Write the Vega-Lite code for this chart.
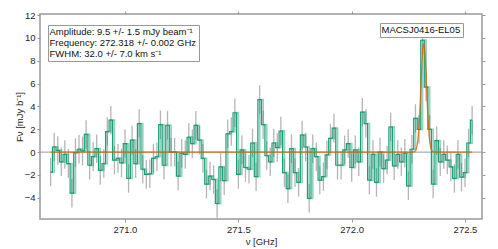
{
  "$schema": "https://vega.github.io/schema/vega-lite/v6.json",
  "width": 442,
  "height": 205,
  "autosize": {"type": "none"},
  "padding": {"left": 40, "top": 14, "right": 16, "bottom": 30},
  "background": "white",
  "datasets": {
    "spectrum": [
      {"freq": 270.6720, "flux": -1.75, "err": 1.25},
      {"freq": 270.6876, "flux": 0.45, "err": 1.25},
      {"freq": 270.7033, "flux": 0.15, "err": 1.25},
      {"freq": 270.7189, "flux": -0.85, "err": 1.25},
      {"freq": 270.7345, "flux": -0.2, "err": 1.25},
      {"freq": 270.7501, "flux": -1.0, "err": 1.25},
      {"freq": 270.7658, "flux": -3.6, "err": 1.25},
      {"freq": 270.7814, "flux": -0.05, "err": 1.25},
      {"freq": 270.7970, "flux": 0.25, "err": 1.25},
      {"freq": 270.8126, "flux": 0.1, "err": 1.25},
      {"freq": 270.8283, "flux": 1.55, "err": 1.25},
      {"freq": 270.8439, "flux": -1.15, "err": 1.25},
      {"freq": 270.8595, "flux": -0.4, "err": 1.25},
      {"freq": 270.8751, "flux": 0.3, "err": 1.25},
      {"freq": 270.8908, "flux": -1.6, "err": 1.25},
      {"freq": 270.9064, "flux": -1.0, "err": 1.25},
      {"freq": 270.9220, "flux": 1.8, "err": 1.25},
      {"freq": 270.9376, "flux": 2.8, "err": 1.25},
      {"freq": 270.9533, "flux": -0.7, "err": 1.25},
      {"freq": 270.9689, "flux": -0.55, "err": 1.25},
      {"freq": 270.9845, "flux": -0.95, "err": 1.25},
      {"freq": 271.0001, "flux": 0.75, "err": 1.25},
      {"freq": 271.0158, "flux": -2.3, "err": 1.25},
      {"freq": 271.0314, "flux": 1.05, "err": 1.25},
      {"freq": 271.0470, "flux": -1.0, "err": 1.25},
      {"freq": 271.0626, "flux": 2.5, "err": 1.25},
      {"freq": 271.0783, "flux": -1.5, "err": 1.25},
      {"freq": 271.0939, "flux": -1.95, "err": 1.25},
      {"freq": 271.1095, "flux": -1.9, "err": 1.25},
      {"freq": 271.1251, "flux": -0.55, "err": 1.25},
      {"freq": 271.1408, "flux": -0.4, "err": 1.25},
      {"freq": 271.1564, "flux": 2.4, "err": 1.25},
      {"freq": 271.1720, "flux": -1.15, "err": 1.25},
      {"freq": 271.1876, "flux": 2.35, "err": 1.25},
      {"freq": 271.2033, "flux": 0.0, "err": 1.25},
      {"freq": 271.2189, "flux": 0.0, "err": 1.25},
      {"freq": 271.2345, "flux": -2.1, "err": 1.25},
      {"freq": 271.2501, "flux": -0.1, "err": 1.25},
      {"freq": 271.2658, "flux": -0.2, "err": 1.25},
      {"freq": 271.2814, "flux": 1.3, "err": 1.25},
      {"freq": 271.2970, "flux": 0.75, "err": 1.25},
      {"freq": 271.3126, "flux": 2.35, "err": 1.25},
      {"freq": 271.3283, "flux": 1.05, "err": 1.25},
      {"freq": 271.3439, "flux": -0.55, "err": 1.25},
      {"freq": 271.3595, "flux": -2.8, "err": 1.25},
      {"freq": 271.3751, "flux": -2.1, "err": 1.25},
      {"freq": 271.3908, "flux": -2.4, "err": 1.25},
      {"freq": 271.4064, "flux": -4.5, "err": 1.25},
      {"freq": 271.4220, "flux": -1.3, "err": 1.25},
      {"freq": 271.4376, "flux": -2.5, "err": 1.25},
      {"freq": 271.4533, "flux": 1.6, "err": 1.25},
      {"freq": 271.4689, "flux": 1.8, "err": 1.25},
      {"freq": 271.4845, "flux": 3.45, "err": 1.25},
      {"freq": 271.5001, "flux": -1.95, "err": 1.25},
      {"freq": 271.5158, "flux": 0.2, "err": 1.25},
      {"freq": 271.5314, "flux": -1.35, "err": 1.25},
      {"freq": 271.5470, "flux": -1.5, "err": 1.25},
      {"freq": 271.5626, "flux": 0.8, "err": 1.25},
      {"freq": 271.5783, "flux": -2.15, "err": 1.25},
      {"freq": 271.5939, "flux": 4.6, "err": 1.25},
      {"freq": 271.6095, "flux": 2.4, "err": 1.25},
      {"freq": 271.6251, "flux": -0.3, "err": 1.25},
      {"freq": 271.6408, "flux": -0.85, "err": 1.25},
      {"freq": 271.6564, "flux": 0.8, "err": 1.25},
      {"freq": 271.6720, "flux": 0.4, "err": 1.25},
      {"freq": 271.6876, "flux": 1.85, "err": 1.25},
      {"freq": 271.7033, "flux": -1.8, "err": 1.25},
      {"freq": 271.7189, "flux": -3.2, "err": 1.25},
      {"freq": 271.7345, "flux": 0.3, "err": 1.25},
      {"freq": 271.7501, "flux": -1.8, "err": 1.25},
      {"freq": 271.7658, "flux": -2.65, "err": 1.25},
      {"freq": 271.7814, "flux": 1.5, "err": 1.25},
      {"freq": 271.7970, "flux": 0.45, "err": 1.25},
      {"freq": 271.8126, "flux": -4.05, "err": 1.25},
      {"freq": 271.8283, "flux": 0.3, "err": 1.25},
      {"freq": 271.8439, "flux": -0.4, "err": 1.25},
      {"freq": 271.8595, "flux": -2.45, "err": 1.25},
      {"freq": 271.8751, "flux": -2.15, "err": 1.25},
      {"freq": 271.8908, "flux": -0.25, "err": 1.25},
      {"freq": 271.9064, "flux": 1.2, "err": 1.25},
      {"freq": 271.9220, "flux": 2.1, "err": 1.25},
      {"freq": 271.9376, "flux": -1.15, "err": 1.25},
      {"freq": 271.9533, "flux": -1.15, "err": 1.25},
      {"freq": 271.9689, "flux": 0.2, "err": 1.25},
      {"freq": 271.9845, "flux": 0.75, "err": 1.25},
      {"freq": 272.0001, "flux": -1.35, "err": 1.25},
      {"freq": 272.0158, "flux": 0.2, "err": 1.25},
      {"freq": 272.0314, "flux": -0.85, "err": 1.25},
      {"freq": 272.0470, "flux": 3.5, "err": 1.25},
      {"freq": 272.0626, "flux": 2.5, "err": 1.25},
      {"freq": 272.0783, "flux": -2.45, "err": 1.25},
      {"freq": 272.0939, "flux": -0.2, "err": 1.25},
      {"freq": 272.1095, "flux": -2.65, "err": 1.25},
      {"freq": 272.1251, "flux": 0.0, "err": 1.25},
      {"freq": 272.1408, "flux": -1.45, "err": 1.25},
      {"freq": 272.1564, "flux": -0.7, "err": 1.25},
      {"freq": 272.1720, "flux": 2.2, "err": 1.25},
      {"freq": 272.1876, "flux": -1.2, "err": 1.25},
      {"freq": 272.2033, "flux": -0.2, "err": 1.25},
      {"freq": 272.2189, "flux": -0.85, "err": 1.25},
      {"freq": 272.2345, "flux": -0.1, "err": 1.25},
      {"freq": 272.2501, "flux": -2.95, "err": 1.25},
      {"freq": 272.2658, "flux": 0.25, "err": 1.25},
      {"freq": 272.2814, "flux": 2.95, "err": 1.25},
      {"freq": 272.2970, "flux": 2.0, "err": 1.25},
      {"freq": 272.3126, "flux": 9.8, "err": 1.25},
      {"freq": 272.3283, "flux": 5.7, "err": 1.25},
      {"freq": 272.3439, "flux": 2.0, "err": 1.25},
      {"freq": 272.3595, "flux": -2.8, "err": 1.25},
      {"freq": 272.3751, "flux": 1.0, "err": 1.25},
      {"freq": 272.3908, "flux": -0.85, "err": 1.25},
      {"freq": 272.4064, "flux": -0.2, "err": 1.25},
      {"freq": 272.4220, "flux": -0.7, "err": 1.25},
      {"freq": 272.4376, "flux": -1.3, "err": 1.25},
      {"freq": 272.4533, "flux": -2.3, "err": 1.25},
      {"freq": 272.4689, "flux": -0.2, "err": 1.25},
      {"freq": 272.4845, "flux": -2.2, "err": 1.25},
      {"freq": 272.5001, "flux": -1.8, "err": 1.25},
      {"freq": 272.5158, "flux": 0.8, "err": 1.25},
      {"freq": 272.5314, "flux": 2.8, "err": 1.25}
    ],
    "model": [
      {"freq": 270.672, "model": 0},
      {"freq": 272.268, "model": 0.003},
      {"freq": 272.273, "model": 0.012},
      {"freq": 272.278, "model": 0.05},
      {"freq": 272.283, "model": 0.171},
      {"freq": 272.288, "model": 0.496},
      {"freq": 272.293, "model": 1.222},
      {"freq": 272.298, "model": 2.557},
      {"freq": 272.303, "model": 4.54},
      {"freq": 272.308, "model": 6.842},
      {"freq": 272.313, "model": 8.752},
      {"freq": 272.318, "model": 9.5},
      {"freq": 272.323, "model": 8.752},
      {"freq": 272.328, "model": 6.842},
      {"freq": 272.333, "model": 4.54},
      {"freq": 272.338, "model": 2.557},
      {"freq": 272.343, "model": 1.222},
      {"freq": 272.348, "model": 0.496},
      {"freq": 272.353, "model": 0.171},
      {"freq": 272.358, "model": 0.05},
      {"freq": 272.363, "model": 0.012},
      {"freq": 272.368, "model": 0.003},
      {"freq": 272.5314, "model": 0}
    ],
    "fitinfo": [
      {"line": "Amplitude: 9.5 +/- 1.5 mJy beam⁻¹"},
      {"line": "Frequency: 272.318 +/- 0.002 GHz"},
      {"line": "FWHM: 32.0 +/- 7.0 km s⁻¹"}
    ],
    "source": [
      {"name": "MACSJ0416-EL05"}
    ]
  },
  "layer": [
    {
      "data": {"name": "spectrum"},
      "mark": {"type": "errorbar", "rule": {"color": "#b5b5b5", "strokeWidth": 1.3}},
      "encoding": {
        "x": {"field": "freq", "type": "quantitative", "axis": null, "scale": {"domain": [270.625, 272.575], "nice": false, "zero": false}},
        "y": {"field": "flux", "type": "quantitative", "axis": null, "scale": {"domain": [-5.86, 12.1], "nice": false, "zero": false}},
        "yError": {"field": "err"}
      }
    },
    {
      "mark": {"type": "rule", "color": "#999999", "strokeWidth": 1},
      "encoding": {"y": {"datum": 0, "type": "quantitative", "axis": null}}
    },
    {
      "data": {"name": "spectrum"},
      "mark": {"type": "line", "interpolate": "step-after", "color": "#1b9e77", "strokeWidth": 1.8, "opacity": 0.45},
      "encoding": {
        "x": {"field": "freq", "type": "quantitative", "axis": null},
        "y": {"field": "flux", "type": "quantitative", "axis": null}
      }
    },
    {
      "data": {"name": "spectrum"},
      "mark": {"type": "line", "interpolate": "step", "color": "#1b9e77", "strokeWidth": 1.2},
      "encoding": {
        "x": {"field": "freq", "type": "quantitative",
              "scale": {"domain": [270.625, 272.575], "nice": false, "zero": false},
              "axis": {"orient": "bottom", "values": [271.0, 271.5, 272.0, 272.5], "format": ".1f", "title": "ν [GHz]", "labelPadding": 2, "titlePadding": 3}},
        "y": {"field": "flux", "type": "quantitative",
              "scale": {"domain": [-5.86, 12.1], "nice": false, "zero": false},
              "axis": {"orient": "left", "tickCount": 9, "title": "Fν [mJy b⁻¹]", "labelPadding": 2, "titlePadding": 0,
                       "labelFlush": false, "labelOverlap": false, "labelBound": false}}
      }
    },
    {
      "data": {"name": "model"},
      "mark": {"type": "line", "interpolate": "monotone", "color": "#d95f02", "strokeWidth": 1.3, "opacity": 0.8},
      "encoding": {
        "x": {"field": "freq", "type": "quantitative",
              "axis": {"orient": "top", "values": [271.0, 271.5, 272.0, 272.5], "labels": false, "title": null}},
        "y": {"field": "model", "type": "quantitative",
              "axis": {"orient": "right", "tickCount": 9, "labels": false, "title": null}}
      }
    },
    {
      "data": {"name": "fitinfo"},
      "mark": {"type": "point", "opacity": 0},
      "encoding": {
        "shape": {"field": "line", "type": "nominal", "sort": null,
                  "legend": {"title": null, "orient": "none", "legendX": 8, "legendY": 11, "padding": 2, "rowPadding": 0,
                             "fillColor": "white", "strokeColor": "#999999", "labelFontSize": 9.5, "labelColor": "#111111",
                             "labelLimit": 400, "symbolSize": 0, "symbolStrokeWidth": 0, "symbolOpacity": 0, "labelOffset": -10}}
      }
    },
    {
      "data": {"name": "source"},
      "mark": {"type": "point", "opacity": 0},
      "encoding": {
        "color": {"field": "name", "type": "nominal", "scale": {"range": ["black"]},
                  "legend": {"title": null, "orient": "none", "legendX": 340, "legendY": 9, "padding": 2,
                             "fillColor": "white", "strokeColor": "#999999", "labelFontSize": 9.5, "labelColor": "#111111",
                             "labelLimit": 400, "symbolSize": 0, "symbolStrokeWidth": 0, "symbolOpacity": 0, "labelOffset": -10}}
      }
    }
  ],
  "resolve": {"axis": {"x": "independent", "y": "independent"}},
  "config": {
    "font": "Liberation Sans",
    "view": {"stroke": "#999999", "strokeWidth": 1.5},
    "axis": {
      "domain": false, "grid": false, "tickColor": "#999999", "tickSize": 3, "tickWidth": 1,
      "labelFont": "Liberation Sans", "labelFontSize": 9.5, "labelColor": "#262626",
      "titleFont": "Liberation Sans", "titleFontSize": 9.5, "titleFontWeight": "normal", "titleColor": "#262626"
    },
    "legend": {"labelFont": "Liberation Sans"}
  }
}
